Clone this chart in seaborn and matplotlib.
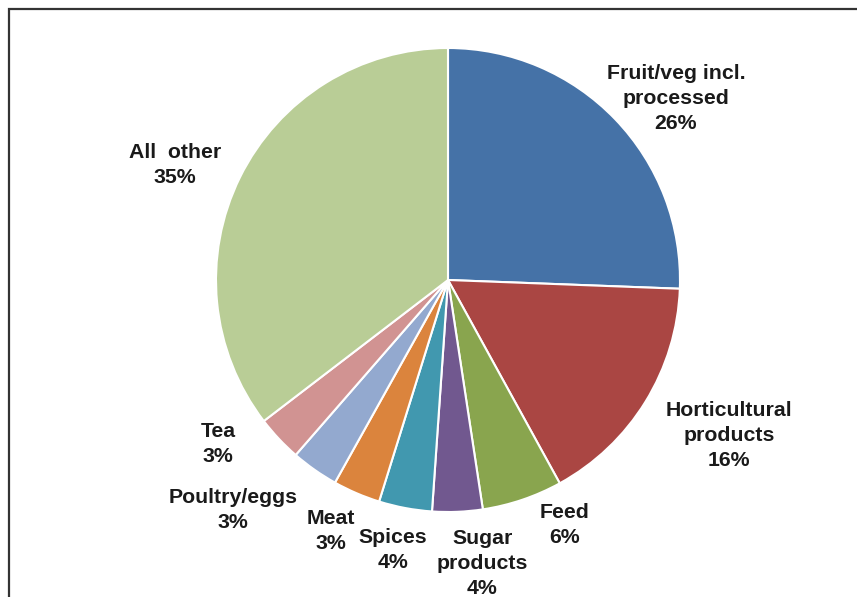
import numpy as np
import matplotlib
matplotlib.use('Agg')
import matplotlib.pyplot as plt
import matplotlib.patches as mpatches
import seaborn as sns

sns.set_style('white')
plt.rcParams['font.family'] = ['Liberation Sans', 'DejaVu Sans']

# Datos del gráfico (porcentajes)
categorias = ['Fruit/veg incl.\nprocessed', 'Horticultural\nproducts', 'Feed',
              'Sugar\nproducts', 'Spices', 'Meat', 'Poultry/eggs', 'Tea', 'All  other']
valores = [25.6, 16.4, 5.6, 3.5, 3.7, 3.3, 3.3, 3.2, 35.4]
colores = ['#4572A7', '#AA4643', '#89A54E', '#71588F', '#4198AF',
           '#DB843D', '#93A9CF', '#D19392', '#B9CD96']

# Posición de las etiquetas: ángulo (grados) y distancia al centro (radios)
etiqueta_angulo = [38.6, -28.9, -64.5, -83.1, -101.5, -115.0, -133.1, -144.5, 157.2]
etiqueta_dist = [1.257, 1.383, 1.170, 1.229, 1.188, 1.194, 1.357, 1.217, 1.277]

W, H = 857, 597
cx, cy, r = 448, 280, 232

fig = plt.figure(figsize=(W / 100, H / 100), dpi=100)
ax = fig.add_axes([(cx - r) / W, (H - cy - r) / H, 2 * r / W, 2 * r / H])

ax.pie(valores, colors=sns.color_palette(colores), startangle=90, counterclock=False,
       wedgeprops=dict(edgecolor='white', linewidth=1.5), radius=1)
ax.set_xlim(-1, 1)
ax.set_ylim(-1, 1)
ax.set_aspect('equal')
ax.axis('off')

for cat, val, ang, dist in zip(categorias, valores, etiqueta_angulo, etiqueta_dist):
    a = np.deg2rad(ang)
    ax.text(dist * np.cos(a), dist * np.sin(a), f'{cat}\n{val:.0f}%',
            ha='center', va='center', fontsize=15.3, fontweight='bold',
            color='#1a1a1a', linespacing=1.4, clip_on=False)

# Marco del gráfico
marco = mpatches.Rectangle((9 / W, -0.2), 1.2, 1.2 - 9 / H, transform=fig.transFigure,
                           fill=False, edgecolor='#333333', linewidth=1.6, clip_on=False)
fig.patches.append(marco)

fig.savefig('out.png', dpi=100)
plt.close(fig)
